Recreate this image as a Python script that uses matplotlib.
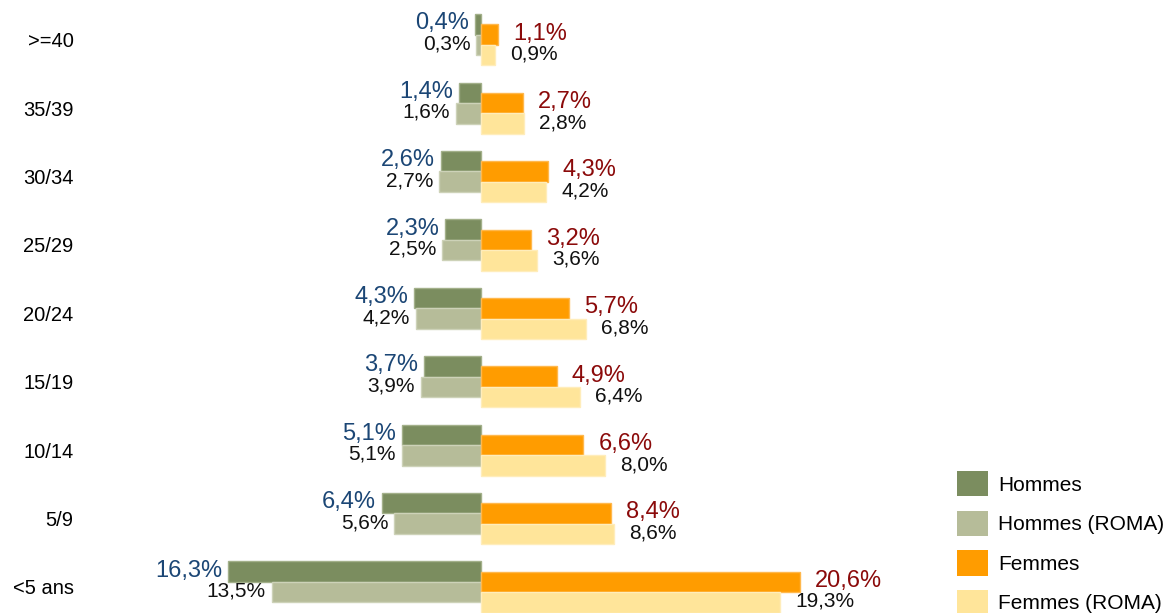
import matplotlib
matplotlib.use("Agg")
import matplotlib.pyplot as plt
from matplotlib.patches import Patch
import numpy as np

categories = ["<5 ans", "5/9", "10/14", "15/19", "20/24", "25/29", "30/34", "35/39", ">=40"]
hommes = [16.3, 6.4, 5.1, 3.7, 4.3, 2.3, 2.6, 1.4, 0.4]
hommes_roma = [13.5, 5.6, 5.1, 3.9, 4.2, 2.5, 2.7, 1.6, 0.3]
femmes = [20.6, 8.4, 6.6, 4.9, 5.7, 3.2, 4.3, 2.7, 1.1]
femmes_roma = [19.3, 8.6, 8.0, 6.4, 6.8, 3.6, 4.2, 2.8, 0.9]
series_names = ["Hommes", "Hommes (ROMA)", "Femmes", "Femmes (ROMA)"]

plt.rcParams["font.family"] = ["Liberation Sans", "DejaVu Sans"]

W, H, DPI = 1169, 613, 100
fig = plt.figure(figsize=(W / DPI, H / DPI), dpi=DPI)

# axes from x=82px to right edge; 15.5 px per percent, zero at 481px
left_px = 82
ax = fig.add_axes([left_px / W, 0, 1 - left_px / W, 1])
px_per_pct = 15.5
ax.set_xlim((left_px - 481) / px_per_pct, (W - 481) / px_per_pct)
row_px = 68.4
ax.set_ylim((587 - H) / row_px, 587 / row_px)

y = np.arange(len(categories))
h = 0.30
colors = ["#7B8D5F", "#B6BC99", "#FF9C00", "#FFE59A"]
edges = ["#A3B08A", "#CDD2B8", "#FFB84D", "#FFEDBB"]
offsets = [0.75 * h, -0.25 * h, 0.25 * h, -0.75 * h]
values = [hommes, hommes_roma, femmes, femmes_roma]
signs = [-1, -1, 1, 1]
label_colors = ["#1B4675", "#111111", "#8B0A0A", "#111111"]
label_sizes = [17, 15, 17, 15]


def fmt(v):
    return f"{v:.1f}".replace(".", ",") + "%"


for vals, off, sgn, col, ec, lc, fs in zip(values, offsets, signs, colors, edges, label_colors, label_sizes):
    xs = sgn * np.array(vals)
    ax.barh(y + off, xs, height=h, color=col, edgecolor=ec, linewidth=1.0)
    for yi, xv in zip(y + off, xs):
        if sgn < 0:
            ax.annotate(fmt(-xv), (xv, yi), xytext=(-6, 1), textcoords="offset pixels",
                        ha="right", va="center", color=lc, fontsize=fs)
        else:
            ax.annotate(fmt(xv), (xv, yi), xytext=(15, 1), textcoords="offset pixels",
                        ha="left", va="center", color=lc, fontsize=fs)

ax.set_yticks(y)
ax.set_yticklabels(categories, fontsize=14.5)
ax.tick_params(axis="y", length=0, pad=6)
ax.set_xticks([])
for s in ax.spines.values():
    s.set_visible(False)

handles = [Patch(facecolor=c, edgecolor="none") for c in colors]
fig.legend(handles, series_names, loc="upper left",
           bbox_to_anchor=(957 / W, 1 - 471 / H), frameon=False, fontsize=15,
           handlelength=1.5, handleheight=1.5, labelspacing=0.68,
           handletextpad=0.48, borderpad=0, borderaxespad=0)

fig.savefig("out.png", dpi=DPI)
